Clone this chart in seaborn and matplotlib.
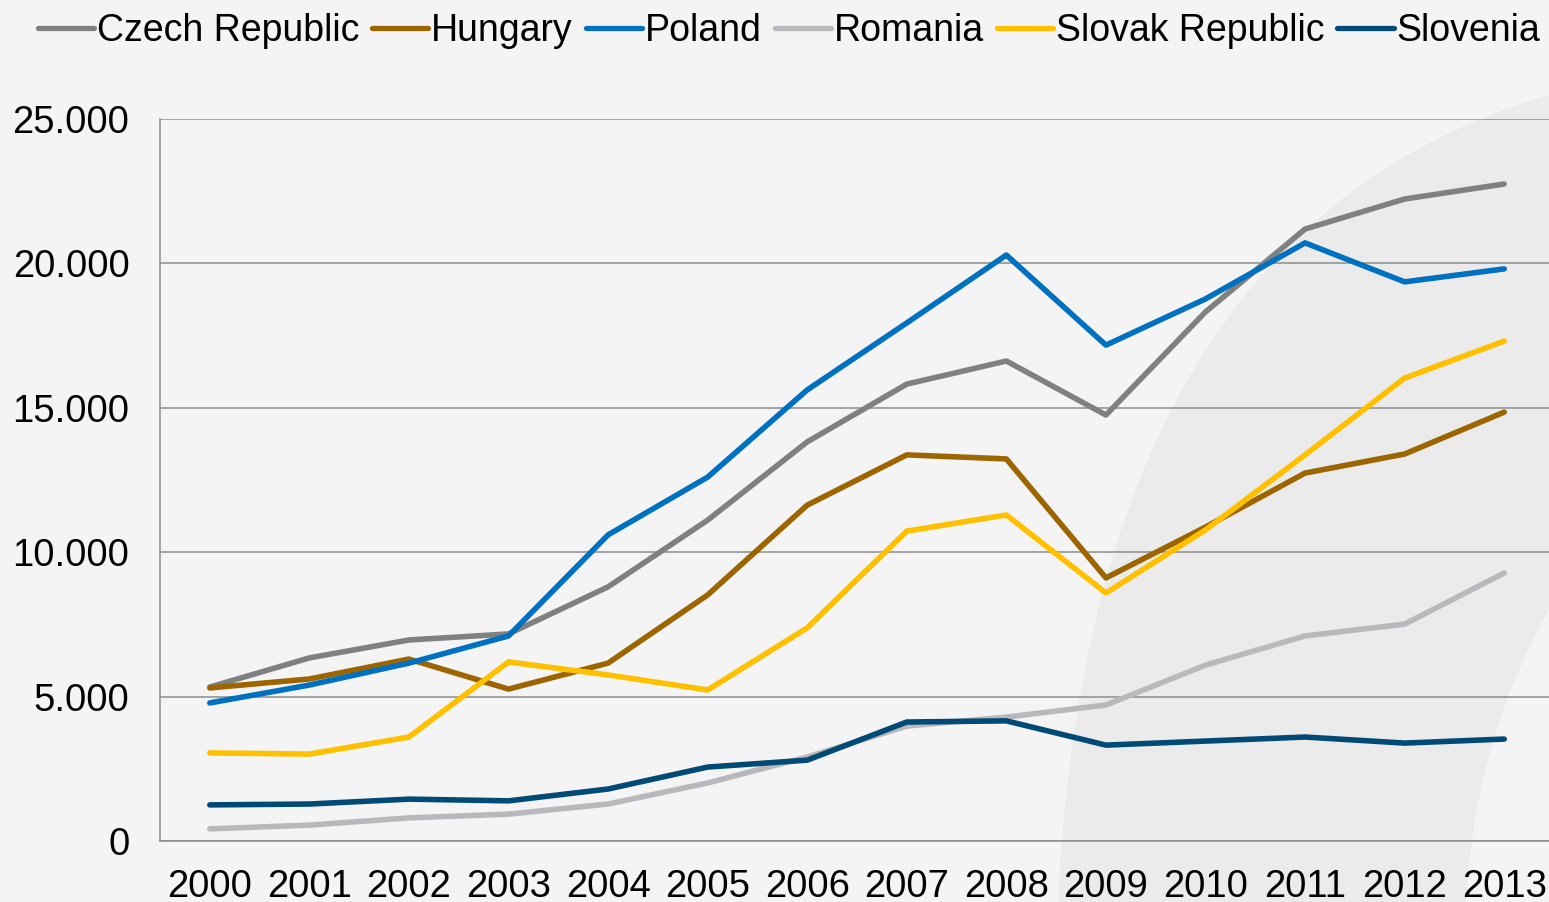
import numpy as np
import pandas as pd
import matplotlib
matplotlib.use("Agg")
import matplotlib.pyplot as plt
from matplotlib.patches import Polygon
from matplotlib.ticker import FuncFormatter, MultipleLocator
import seaborn as sns

# data
years = list(range(2000, 2014))
czech = [5330, 6340, 6960, 7170, 8800, 11110, 13820, 15820, 16620, 14750, 18320, 21190, 22230, 22750]
hungary = [5300, 5610, 6300, 5260, 6160, 8520, 11630, 13370, 13230, 9110, 10870, 12740, 13400, 14850]
poland = [4780, 5400, 6160, 7100, 10600, 12600, 15620, 17940, 20290, 17170, 18770, 20710, 19360, 19810]
romania = [420, 550, 800, 930, 1280, 2010, 2910, 3980, 4290, 4710, 6090, 7100, 7510, 9280]
slovakia = [3050, 3010, 3600, 6200, 5750, 5230, 7380, 10730, 11290, 8590, 10770, 13370, 16030, 17310]
slovenia = [1250, 1280, 1450, 1390, 1800, 2560, 2800, 4120, 4160, 3320, 3460, 3600, 3390, 3530]

countries = ["Czech Republic", "Hungary", "Poland", "Romania", "Slovak Republic", "Slovenia"]
series = [czech, hungary, poland, romania, slovakia, slovenia]
colors = ["#808080", "#9c6500", "#0070c0", "#b9b9bd", "#ffc000", "#004a75"]

df = pd.concat([pd.DataFrame({"year": years, "value": s, "country": c})
                for c, s in zip(countries, series)], ignore_index=True)

sns.set_style("white")
plt.rcParams["font.family"] = ["Liberation Sans", "DejaVu Sans"]

W, H = 1549, 902
fig = plt.figure(figsize=(W / 100, H / 100), dpi=100, facecolor="#f4f4f4")

# soft curved shade in the background (decoration only)
t = np.linspace(0, 1, 40)
left_edge = [((1 - s) ** 2 * 1058 + 2 * s * (1 - s) * 1090 + s ** 2 * 1549,
              (1 - s) ** 2 * 902 + 2 * s * (1 - s) * 230 + s ** 2 * 95) for s in t]
right_edge = [((1 - s) ** 2 * 1549 + 2 * s * (1 - s) * 1475 + s ** 2 * 1466,
               (1 - s) ** 2 * 610 + 2 * s * (1 - s) * 740 + s ** 2 * 902) for s in t]
pts = [(x / W, 1 - y / H) for x, y in left_edge + right_edge]
fig.add_artist(Polygon(pts, closed=True, transform=fig.transFigure,
                       facecolor="#ebebeb", edgecolor="none", zorder=-1))

ax = fig.add_axes([160 / W, 61 / H, 1394 / W, 722 / H])
ax.set_facecolor("none")

sns.lineplot(data=df, x="year", y="value", hue="country", hue_order=countries,
             palette=colors, linewidth=4, ax=ax, legend=False, sort=False,
             solid_capstyle="round", solid_joinstyle="round")

ax.set_xlim(1999.5, 2013.5)
ax.set_ylim(0, 25000)
ax.yaxis.set_major_locator(MultipleLocator(5000))
ax.yaxis.set_major_formatter(FuncFormatter(lambda v, p: f"{int(v):,}".replace(",", ".")))
ax.set_xticks(years)
ax.set_xticklabels([str(y) for y in years])
ax.set_xticks([y - 0.5 for y in years] + [2013.5], minor=True)

ax.grid(axis="y", color="#8c8c8c", linewidth=1.1)
ax.set_axisbelow(True)
for side in ["top", "right"]:
    ax.spines[side].set_visible(False)
for side in ["left", "bottom"]:
    ax.spines[side].set_color("#8c8c8c")
    ax.spines[side].set_linewidth(1.1)

ax.tick_params(axis="x", which="major", length=0, pad=20, labelsize=27.5, labelcolor="black")
ax.tick_params(axis="x", which="minor", length=8, width=1.1, color="#8c8c8c", direction="out")
ax.tick_params(axis="y", length=8, width=1.1, color="#8c8c8c", pad=14, labelsize=27.5, labelcolor="black")
ax.set_xlabel("")
ax.set_ylabel("")

handles = [plt.Line2D([], [], color=c, linewidth=3.8, solid_capstyle="round") for c in colors]
fig.legend(handles, countries, loc="center", bbox_to_anchor=(789 / W, 1 - 31 / H),
           ncol=6, frameon=False, fontsize=27, handlelength=1.5, handletextpad=0.08,
           columnspacing=0.34, borderaxespad=0, borderpad=0, labelcolor="black")

fig.savefig("out.png", dpi=100, facecolor=fig.get_facecolor())
